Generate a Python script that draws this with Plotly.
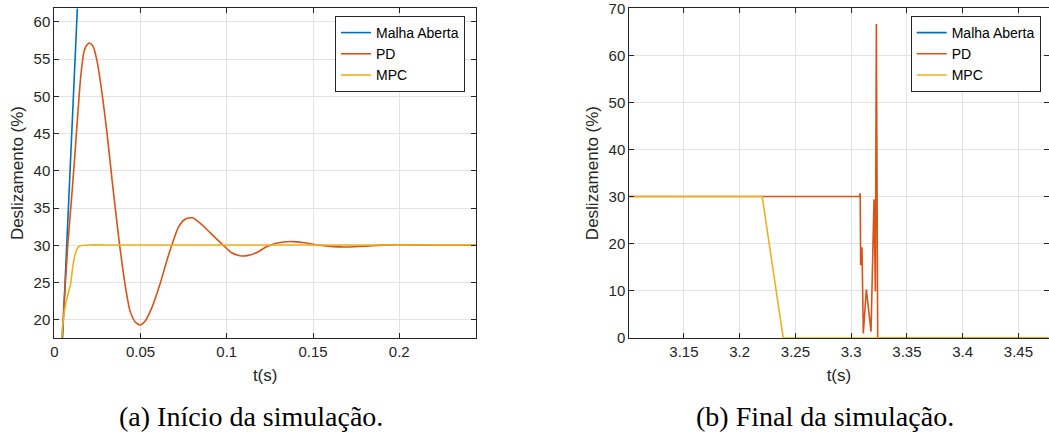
import plotly.graph_objects as go

# ---------------- data: (a) start of simulation ----------------
t_open_a = [0.0, 0.0024, 0.0048, 0.0072, 0.0133, 0.020]
slip_open_a = [0.0, 5.0, 17.6, 30.0, 61.8, 96.0]

t_pd_a = [0.0, 0.003, 0.0045, 0.0078, 0.0100, 0.0118, 0.0133, 0.0153, 0.0172, 0.0191,
          0.0207, 0.0226, 0.0249, 0.0278, 0.0307, 0.0336, 0.0365, 0.0379, 0.0410, 0.0439,
          0.0468, 0.0497, 0.0526, 0.0565, 0.0613, 0.0652, 0.0681, 0.0719, 0.0758, 0.0802,
          0.0854, 0.0903, 0.0980, 0.1028, 0.1077, 0.1125, 0.1180, 0.1230, 0.1280, 0.1330,
          0.1380, 0.1450, 0.1500, 0.1550, 0.1620, 0.1700, 0.1800, 0.1900, 0.2000, 0.2100,
          0.2200, 0.2450]
slip_pd_a = [0.0, 12.5, 17.6, 30.0, 36.3, 41.7, 46.6, 52.6, 56.0, 56.96,
             57.13, 56.65, 54.6, 50.2, 44.8, 38.55, 32.7, 30.0, 24.8, 21.2,
             19.75, 19.3, 19.8, 21.6, 24.8, 27.9, 30.0, 32.4, 33.5, 33.7,
             32.8, 31.7, 30.0, 29.0, 28.6, 28.65, 29.1, 29.8, 30.25, 30.45,
             30.5, 30.35, 30.15, 29.98, 29.82, 29.78, 29.88, 30.02, 30.08, 30.05,
             30.0, 30.0]

t_mpc_a = [0.0, 0.0035, 0.0043, 0.0052, 0.0065, 0.0081, 0.0095, 0.0108, 0.0118,
           0.0126, 0.0137, 0.0149, 0.017, 0.0207, 0.030, 0.245]
slip_mpc_a = [0.0, 8.0, 17.6, 20.0, 22.0, 23.6, 24.9, 27.3, 28.5,
              29.2, 29.7, 29.9, 30.0, 30.05, 30.05, 30.05]

# ---------------- data: (b) end of simulation ----------------
t_open_b = [3.10, 3.48]
slip_open_b = [100.0, 100.0]

t_pd_b = [3.10, 3.3076, 3.3081, 3.3085, 3.3097, 3.3109, 3.3136, 3.3178, 3.3205,
          3.3217, 3.3226, 3.3238, 3.48]
slip_pd_b = [30.0, 30.0, 30.7, 15.4, 19.2, 0.9, 10.3, 1.3, 29.4,
             9.8, 66.7, 0.0, 0.0]

t_mpc_b = [3.10, 3.2202, 3.239, 3.48]
slip_mpc_b = [30.0, 30.0, 0.0, 0.0]

names = ["Malha Aberta", "PD", "MPC"]
colors = ["#0072BD", "#D95319", "#EDB120"]

xticks_a = [0, 0.05, 0.1, 0.15, 0.2]
xticklabels_a = ["0", "0.05", "0.1", "0.15", "0.2"]
yticks_a = [20, 25, 30, 35, 40, 45, 50, 55, 60]
xticks_b = [3.15, 3.2, 3.25, 3.3, 3.35, 3.4, 3.45]
xticklabels_b = ["3.15", "3.2", "3.25", "3.3", "3.35", "3.4", "3.45"]
yticks_b = [0, 10, 20, 30, 40, 50, 60, 70]

captions = ["(a) Início da simulação.", "(b) Final da simulação."]
xlabel = "t(s)"
ylabel = "Deslizamento (%)"

W, H = 1049, 434
SANS = "Liberation Sans"
SERIF = "Liberation Serif"
AX = "#262626"
GRID = "#e3e3e3"

fig = go.Figure()

data_a = [(t_open_a, slip_open_a), (t_pd_a, slip_pd_a), (t_mpc_a, slip_mpc_a)]
data_b = [(t_open_b, slip_open_b), (t_pd_b, slip_pd_b), (t_mpc_b, slip_mpc_b)]

for i, (tx, sy) in enumerate(data_a):
    shape = "linear" if i == 0 else "spline"
    fig.add_trace(go.Scatter(x=tx, y=sy, mode="lines", name=names[i],
                             line=dict(color=colors[i], width=1.6, shape=shape, smoothing=0.6),
                             xaxis="x", yaxis="y", legend="legend"))
for i, (tx, sy) in enumerate(data_b):
    fig.add_trace(go.Scatter(x=tx, y=sy, mode="lines", name=names[i],
                             line=dict(color=colors[i], width=1.6),
                             xaxis="x2", yaxis="y2", legend="legend2"))

ydom = [(H - 337.7) / H, (H - 8.4) / H]
xdom_a = [54.3 / W, 476.0 / W]
xdom_b = [629.3 / W, 1048.5 / W]

common_axis = dict(showline=True, linecolor=AX, linewidth=1, mirror="ticks",
                   ticks="inside", ticklen=5, tickcolor=AX, tickwidth=1,
                   showgrid=True, gridcolor=GRID, gridwidth=1, zeroline=False,
                   tickfont=dict(family=SANS, size=15, color=AX),
                   ticklabeloverflow="allow", automargin=False)
title_font = dict(family=SANS, size=17, color=AX)

legend_common = dict(y=1 - 16.0 / H, yanchor="top", bgcolor="white",
                     bordercolor=AX, borderwidth=1,
                     font=dict(family=SANS, size=14, color="#000000"),
                     tracegroupgap=0, itemwidth=30)

fig.update_layout(
    width=W, height=H,
    margin=dict(l=0, r=0, t=0, b=0),
    paper_bgcolor="white", plot_bgcolor="white",
    xaxis=dict(domain=xdom_a, range=[0, 0.2445], tickvals=xticks_a, ticktext=xticklabels_a,
               title=dict(text=xlabel, font=title_font, standoff=10),
               anchor="y", **common_axis),
    yaxis=dict(domain=ydom, range=[17.6, 61.8], tickvals=yticks_a,
               title=dict(text=ylabel, font=title_font, standoff=5),
               anchor="x", **common_axis),
    xaxis2=dict(domain=xdom_b, range=[3.101, 3.477], tickvals=xticks_b, ticktext=xticklabels_b,
                title=dict(text=xlabel, font=title_font, standoff=10),
                anchor="y2", **common_axis),
    yaxis2=dict(domain=ydom, range=[0, 70], tickvals=yticks_b,
                title=dict(text=ylabel, font=title_font, standoff=5),
                anchor="x2", **common_axis),
    legend=dict(x=465 / W, xanchor="right", **legend_common),
    legend2=dict(x=1040.7 / W, xanchor="right", **legend_common),
    showlegend=True,
)

fig.add_annotation(text=captions[0], x=251 / W, y=1 - 416 / H, xref="paper", yref="paper",
                   xanchor="center", yanchor="middle", showarrow=False,
                   font=dict(family=SERIF, size=28, color="#000000"))
fig.add_annotation(text=captions[1], x=825 / W, y=1 - 416 / H, xref="paper", yref="paper",
                   xanchor="center", yanchor="middle", showarrow=False,
                   font=dict(family=SERIF, size=28, color="#000000"))

fig.write_html("out.html")
